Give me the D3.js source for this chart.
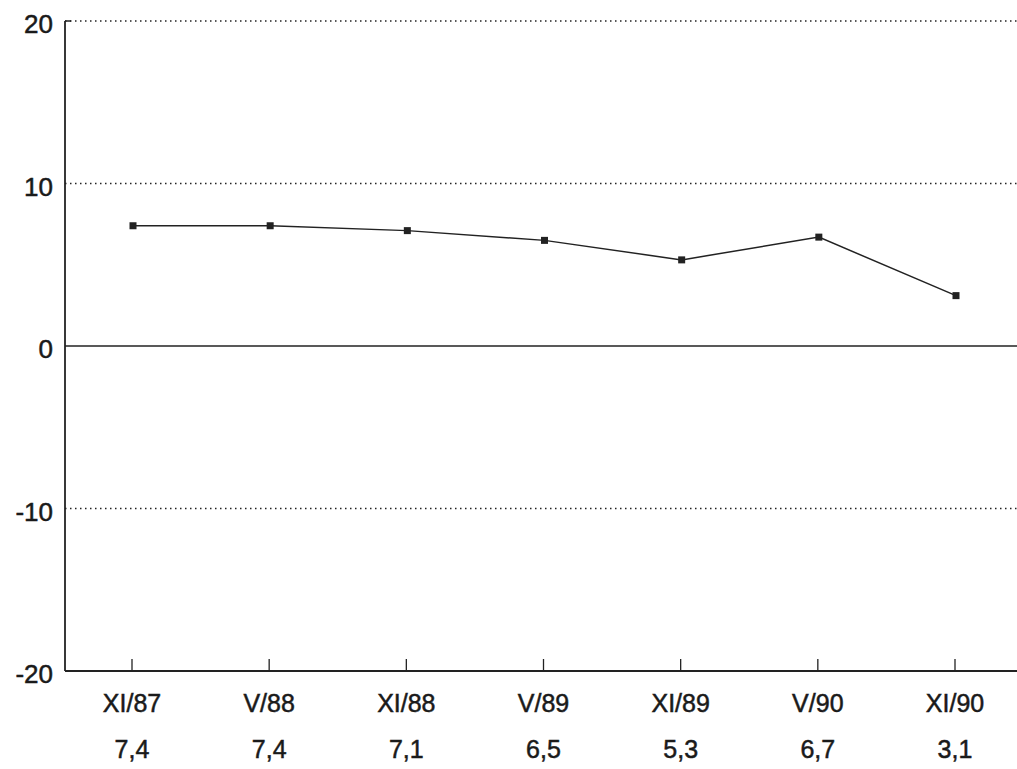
<!DOCTYPE html>
<html><head><meta charset="utf-8">
<script src="https://cdn.jsdelivr.net/npm/d3@7"></script>
<style>body{margin:0;background:#fff}svg{display:block}text{font-family:"Liberation Sans",Arial,sans-serif;fill:#1a1a1a;stroke:#1a1a1a;stroke-width:0.5}</style>
</head><body>
<svg id="c" width="1017" height="769"></svg>
<script>
const categories = ["XI/87","V/88","XI/88","V/89","XI/89","V/90","XI/90"];
const values = [7.4,7.4,7.1,6.5,5.3,6.7,3.1];
const valueLabels = ["7,4","7,4","7,1","6,5","5,3","6,7","3,1"];
const yTicks = [20,10,0,-10,-20];

const svg = d3.select("#c");
const L = 65, R = 1017, T = 21, B = 671;
const x = d3.scalePoint().domain(categories).range([132, 955]);
const y = d3.scaleLinear().domain([-20,20]).range([B,T]);

// dotted gridlines
[20,10,-10].forEach(v=>{
  svg.append("line").attr("x1",L).attr("x2",R).attr("y1",y(v)).attr("y2",y(v))
    .attr("stroke","#222").attr("stroke-width",1.5).attr("stroke-dasharray","1.5,3.5");
});
// zero line
svg.append("line").attr("x1",L).attr("x2",R).attr("y1",y(0)).attr("y2",y(0)).attr("stroke","#222").attr("stroke-width",1.5);
// axes
svg.append("line").attr("x1",L).attr("x2",L).attr("y1",T).attr("y2",B).attr("stroke","#222").attr("stroke-width",1.8);
svg.append("line").attr("x1",L).attr("x2",R).attr("y1",B).attr("y2",B).attr("stroke","#222").attr("stroke-width",1.8);
svg.append("line").attr("x1",L).attr("x2",L+6).attr("y1",T).attr("y2",T).attr("stroke","#222").attr("stroke-width",1.5);

// y labels
svg.selectAll(".yl").data(yTicks).join("text").attr("class","yl")
  .attr("x",53).attr("y",d=>y(d)+3).attr("dy","0.36em").attr("text-anchor","end")
  .attr("font-size",26).text(d=>d);

// x ticks (inward)
svg.selectAll(".xt").data(categories).join("line").attr("class","xt")
  .attr("x1",d=>x(d)).attr("x2",d=>x(d)).attr("y1",B).attr("y2",B-12)
  .attr("stroke","#222").attr("stroke-width",1.3);

svg.selectAll(".xl").data(categories).join("text").attr("class","xl")
  .attr("x",d=>x(d)).attr("y",712).attr("text-anchor","middle").attr("font-size",25).text(d=>d);
svg.selectAll(".vl").data(valueLabels).join("text").attr("class","vl")
  .attr("x",(d,i)=>x(categories[i])).attr("y",758).attr("text-anchor","middle").attr("font-size",25).text(d=>d);

// line
const line = d3.line().x((d,i)=>x(categories[i])+1).y(d=>y(d));
svg.append("path").datum(values).attr("d",line).attr("fill","none").attr("stroke","#222").attr("stroke-width",1.5);
svg.selectAll(".m").data(values).join("rect").attr("class","m")
  .attr("x",(d,i)=>x(categories[i])+1-3.5).attr("y",d=>y(d)-3.5).attr("width",7).attr("height",7)
  .attr("fill","#222");
</script>
</body></html>
